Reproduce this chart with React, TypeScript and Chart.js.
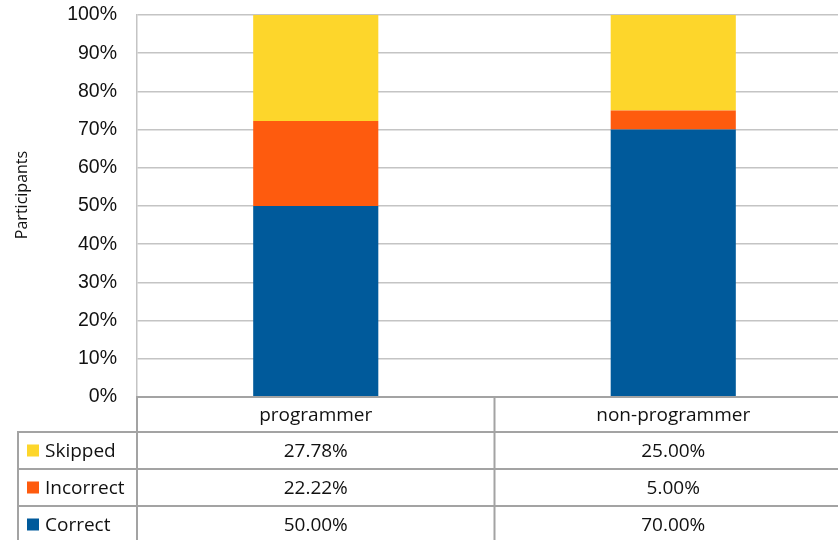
import React, { useEffect, useRef } from "react";
import { Chart, registerables } from "chart.js";

Chart.register(...registerables);

const categories = ["programmer", "non-programmer"];
const correct = [50.0, 70.0];
const incorrect = [22.22, 5.0];
const skipped = [27.78, 25.0];
const yTicks = [0, 10, 20, 30, 40, 50, 60, 70, 80, 90, 100];
const yTitle = "Participants";

const COLORS = { correct: "#005a9b", incorrect: "#fe5b0e", skipped: "#fdd62b" };
const TABLE_FONT = "19px 'Open Sans'";
const LINE = "#a3a3a3";

const tablePlugin = {
  id: "dataTable",
  afterDraw(chart: any) {
    const { ctx, chartArea } = chart;
    const xs = chart.scales.x;
    const top = chartArea.bottom;
    const headerH = 35;
    const rowH = 37;
    const legendLeft = 18;
    const left = chartArea.left;
    const right = chartArea.right;
    const bottom = chart.height;
    const rows = [
      { label: "Skipped", color: COLORS.skipped, values: skipped },
      { label: "Incorrect", color: COLORS.incorrect, values: incorrect },
      { label: "Correct", color: COLORS.correct, values: correct },
    ];
    ctx.save();
    ctx.strokeStyle = LINE;
    ctx.lineWidth = 2;
    const hline = (x1: number, x2: number, y: number) => {
      ctx.beginPath(); ctx.moveTo(x1, y); ctx.lineTo(x2, y); ctx.stroke();
    };
    const vline = (x: number, y1: number, y2: number) => {
      ctx.beginPath(); ctx.moveTo(x, y1); ctx.lineTo(x, y2); ctx.stroke();
    };
    hline(left - 1, right, top);
    for (let i = 0; i < rows.length; i++) {
      hline(legendLeft - 1, right, top + headerH + i * rowH);
    }
    vline(legendLeft, top + headerH, bottom);
    vline(left, top, bottom);
    const centers = categories.map((_, i) => xs.getPixelForValue(i));
    for (let i = 0; i < centers.length - 1; i++) {
      vline((centers[i] + centers[i + 1]) / 2, top, bottom);
    }
    vline(right, top, bottom);

    ctx.fillStyle = "#111";
    ctx.font = TABLE_FONT;
    ctx.textBaseline = "middle";
    ctx.textAlign = "center";
    categories.forEach((c, i) => ctx.fillText(c, centers[i], top + headerH / 2 + 1));
    rows.forEach((r, ri) => {
      const cy = top + headerH + ri * rowH + rowH / 2 + 1;
      ctx.fillStyle = "#111";
      ctx.textAlign = "center";
      r.values.forEach((v, i) => ctx.fillText(v.toFixed(2) + "%", centers[i], cy));
      ctx.textAlign = "left";
      ctx.fillText(r.label, legendLeft + 27, cy);
      ctx.fillStyle = r.color;
      ctx.fillRect(legendLeft + 9, cy - 7, 12, 12);
    });

    // y-axis title
    ctx.save();
    ctx.translate(22, (chartArea.top + chartArea.bottom) / 2 - 11);
    ctx.rotate(-Math.PI / 2);
    ctx.fillStyle = "#111";
    ctx.font = "16px 'Open Sans'";
    ctx.textAlign = "center";
    ctx.textBaseline = "middle";
    ctx.fillText(yTitle, 0, 0);
    ctx.restore();
    ctx.restore();
  },
};

export default function App() {
  const ref = useRef<HTMLCanvasElement | null>(null);
  useEffect(() => {
    if (!ref.current) return;
    const chart = new Chart(ref.current, {
      type: "bar",
      data: {
        labels: categories,
        datasets: [
          { label: "Correct", data: correct, backgroundColor: COLORS.correct },
          { label: "Incorrect", data: incorrect, backgroundColor: COLORS.incorrect },
          { label: "Skipped", data: skipped, backgroundColor: COLORS.skipped },
        ],
      },
      options: {
        responsive: false,
        animation: false,
        layout: { padding: { top: 15, bottom: 143, left: 0, right: 0 } },
        plugins: { legend: { display: false }, tooltip: { enabled: false } },
        datasets: { bar: { categoryPercentage: 1, barPercentage: 0.35 } },
        scales: {
          x: { stacked: true, display: false },
          y: {
            stacked: true,
            min: 0,
            max: 100,
            afterBuildTicks: (s: any) => { s.ticks = yTicks.map((v) => ({ value: v })); },
            afterFit: (s: any) => { s.width = 137; },
            ticks: {
              padding: 2,
              color: "#111",
              font: { family: "'Liberation Sans', Arial", size: 19.5 },
              callback: (v: any) => v + "%",
            },
            grid: { color: "#c4c4c4", lineWidth: 1.5, drawTicks: true, tickLength: 18, tickColor: "rgba(0,0,0,0)" },
            border: { color: "#c4c4c4", width: 1.5 },
            title: { display: false },
          },
        },
      },
      plugins: [tablePlugin],
    });
    return () => chart.destroy();
  }, []);
  return (
    <div style={{ position: "absolute", left: 0, top: 0, width: 838, height: 540, overflow: "hidden", background: "#fff" }}>
      <canvas ref={ref} width={852} height={540} style={{ display: "block" }} />
    </div>
  );
}
